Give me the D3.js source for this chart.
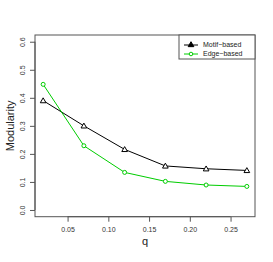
<!DOCTYPE html>
<html><head><meta charset="utf-8">
<script src="https://cdn.jsdelivr.net/npm/d3@7"></script>
<style>body{margin:0;background:#fff}svg{display:block;font-family:"Liberation Sans",Arial,sans-serif}</style>
</head><body>
<svg id="c" width="273" height="262"></svg>
<script>
const qValues = [0.02, 0.07, 0.12, 0.17, 0.22, 0.27];
const motifBased = [0.390, 0.300, 0.216, 0.157, 0.147, 0.141];
const edgeBased = [0.448, 0.229, 0.134, 0.102, 0.089, 0.084];
const xTicks = [0.05, 0.10, 0.15, 0.20, 0.25];
const yTicks = [0.0, 0.1, 0.2, 0.3, 0.4, 0.5, 0.6];
const seriesNames = ["Motif\u2212based", "Edge\u2212based"];
const seriesColors = ["#000000", "#00CD00"];

const svg = d3.select("#c");
const L = 35, R = 255, T = 35, B = 216.7;
const x = d3.scaleLinear().domain([0.01, 0.28]).range([L, R]);
const y = d3.scaleLinear().domain([-0.024, 0.624]).range([B, T]);

// axes
const xAxis = d3.axisBottom(x).tickValues(xTicks).tickFormat(d3.format(".2f")).tickSize(5).tickPadding(5);
const gx = svg.append("g").attr("transform", `translate(0,${B})`).call(xAxis);
gx.select(".domain").attr("d", `M${x(0.05)},0H${x(0.25)}`).attr("stroke", "#555");
gx.selectAll("line").attr("stroke", "#555");
gx.selectAll("text").attr("font-size", 7).attr("fill", "#333");

const yAxis = d3.axisLeft(y).tickValues(yTicks).tickFormat(d3.format(".1f")).tickSize(5).tickPadding(3);
const gy = svg.append("g").attr("transform", `translate(${L},0)`).call(yAxis);
gy.select(".domain").attr("d", `M0,${y(0)}V${y(0.6)}`).attr("stroke", "#555");
gy.selectAll("line").attr("stroke", "#555");
gy.selectAll("text").attr("font-size", 7).attr("fill", "#333")
  .attr("text-anchor", "middle").attr("dy", null)
  .attr("x", 0).attr("y", 0).attr("dominant-baseline", "middle")
  .attr("transform", "translate(-12,0) rotate(-90)");

// box
svg.append("rect").attr("x", L).attr("y", T).attr("width", R - L).attr("height", B - T)
  .attr("fill", "none").attr("stroke", "#555").attr("stroke-width", 1);

// titles
svg.append("text").attr("x", (L + R) / 2).attr("y", 245).attr("text-anchor", "middle")
  .attr("font-size", 11).attr("fill", "#222").text("q");
svg.append("text").attr("transform", `translate(14,${(T + B) / 2}) rotate(-90)`).attr("text-anchor", "middle")
  .attr("font-size", 11).attr("fill", "#222").text("Modularity");

const line = d3.line().x((d, i) => x(qValues[i])).y(d => y(d));
const tri = d3.symbol().type(d3.symbolTriangle).size(14);

// motif series
svg.append("path").datum(motifBased).attr("d", line).attr("fill", "none").attr("stroke", seriesColors[0]).attr("stroke-width", 1);
svg.selectAll(".m").data(motifBased).enter().append("path")
  .attr("d", tri).attr("transform", (d, i) => `translate(${x(qValues[i])},${y(d) + 0.5})`)
  .attr("fill", "#fff").attr("stroke", seriesColors[0]).attr("stroke-width", 1);
// edge series
svg.append("path").datum(edgeBased).attr("d", line).attr("fill", "none").attr("stroke", seriesColors[1]).attr("stroke-width", 1);
svg.selectAll(".e").data(edgeBased).enter().append("circle")
  .attr("cx", (d, i) => x(qValues[i])).attr("cy", d => y(d)).attr("r", 2)
  .attr("fill", "#fff").attr("stroke", seriesColors[1]).attr("stroke-width", 1);

// legend
const lg = svg.append("g");
lg.append("rect").attr("x", 179).attr("y", T).attr("width", R - 179).attr("height", 24)
  .attr("fill", "#fff").attr("stroke", "#555");
seriesNames.forEach((n, i) => {
  const yy = 45 + i * 9;
  lg.append("line").attr("x1", 184).attr("x2", 198).attr("y1", yy).attr("y2", yy).attr("stroke", seriesColors[i]);
  if (i === 0) lg.append("path").attr("d", tri).attr("transform", `translate(191,${yy})`).attr("fill", "#000").attr("stroke", "#000");
  else lg.append("circle").attr("cx", 191).attr("cy", yy).attr("r", 1.8).attr("fill", "#fff").attr("stroke", seriesColors[1]);
  lg.append("text").attr("x", 203).attr("y", yy).attr("dy", "0.35em").attr("font-size", 7).attr("fill", "#222").text(n);
});
</script>
</body></html>
